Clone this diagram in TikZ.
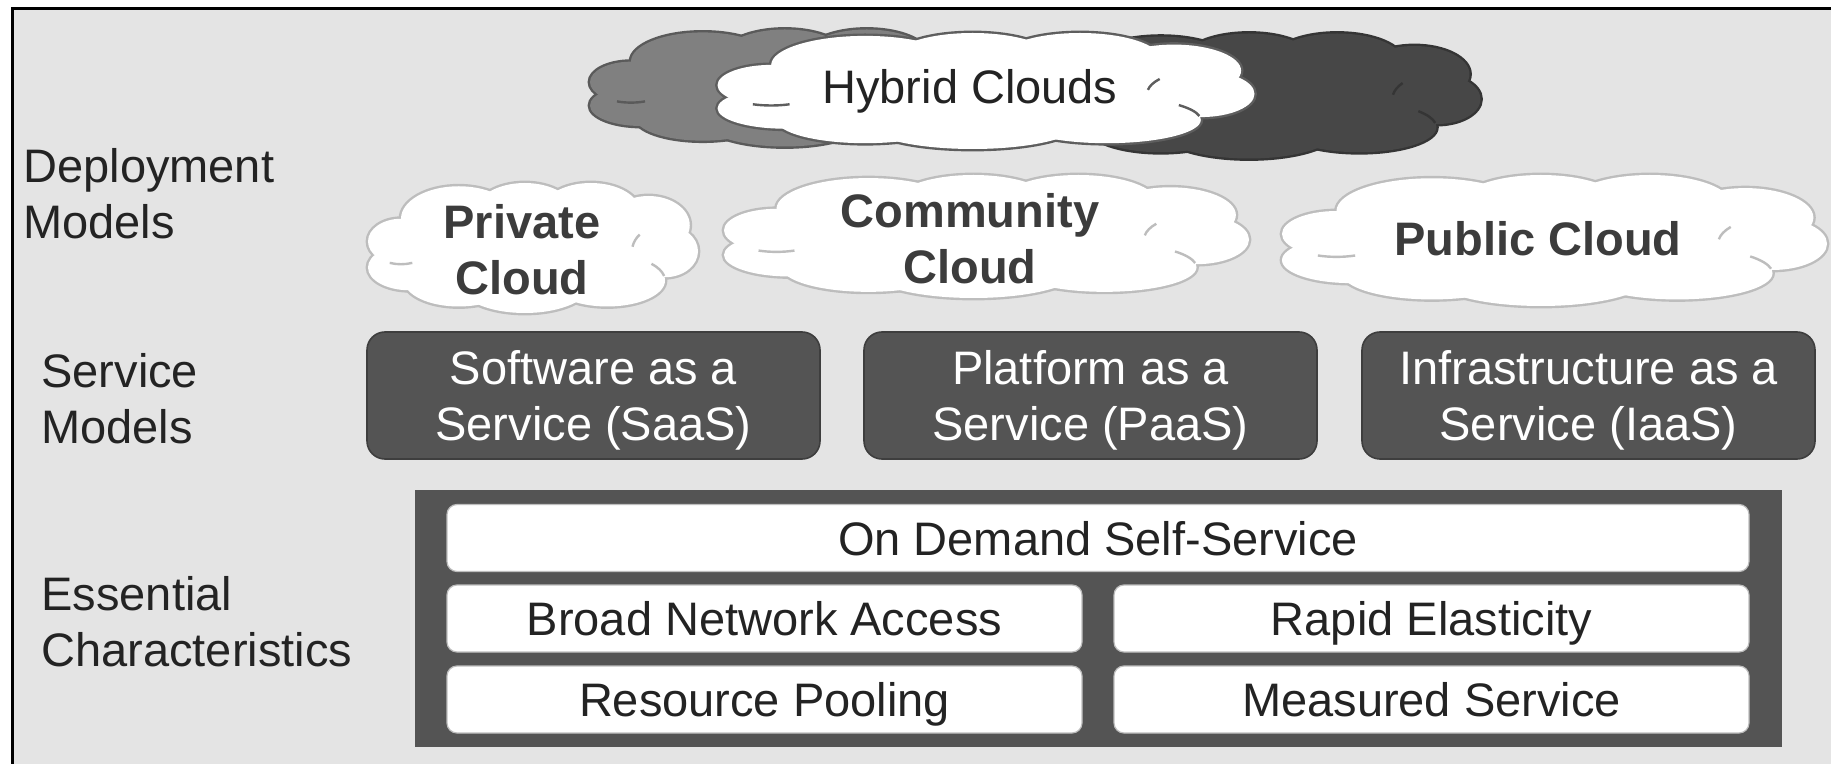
\documentclass[tikz,border=0pt]{standalone}
\usepackage{fontspec}
\setmainfont{Liberation Sans}
\usepackage{tikz}
\definecolor{bggray}{HTML}{E4E4E4}
\definecolor{boxgray}{HTML}{545454}
\definecolor{boxedge}{HTML}{3E3E3E}
\definecolor{puffline}{HTML}{BDBDBD}
\definecolor{midcloud}{HTML}{808080}
\definecolor{midedge}{HTML}{5A5A5A}
\definecolor{darkcloud}{HTML}{474747}
\definecolor{darkedge}{HTML}{353535}
\definecolor{hybridedge}{HTML}{5E5E5E}
\definecolor{labeltext}{HTML}{232323}
\definecolor{cloudtext}{HTML}{3C3C3C}
\newcommand{\bigfont}{\fontsize{23.5}{28}\selectfont}
\newcommand{\boldfont}{\fontsize{23.5}{28}\selectfont\bfseries}
% puffs of a cloud: x/y/x radius/y radius, cloud spans -1..1
\newcommand{\cloudpuffs}{-0.8/0.1/0.2/0.35, -0.75/-0.3/0.25/0.35, -0.45/0.45/0.35/0.5,
	-0.05/0.55/0.3/0.45, 0.35/0.55/0.3/0.45, 0.7/0.35/0.25/0.45, 0.8/-0.05/0.2/0.4,
	0.45/-0.5/0.35/0.4, -0.05/-0.55/0.4/0.45, -0.45/-0.5/0.33/0.4, 0/0/0.75/0.6}
% short folds drawn inside the cloud
\newcommand{\cloudfolds}{-0.8/0.1/0.2/0.35/250/290, 0.8/-0.05/0.2/0.4/140/170,
	0.45/-0.5/0.35/0.4/10/40}
\newcommand{\makecloud}[5]{
	\begin{scope}[shift={(#1)}, x=#2, y=#3]
	\foreach \px/\py/\rx/\ry in \cloudpuffs
		\draw[#5, line width=2.4pt] (\px,\py) ellipse [x radius=\rx, y radius=\ry];
	\foreach \px/\py/\rx/\ry in \cloudpuffs
		\fill[#4] (\px,\py) ellipse [x radius=\rx, y radius=\ry];
	\foreach \px/\py/\rx/\ry/\a/\b in \cloudfolds
		\draw[#5, line width=1.2pt] ({\px+\rx*cos(\a)},{\py+\ry*sin(\a)}) arc [start angle=\a, end angle=\b, x radius=\rx, y radius=\ry];
	\end{scope}
}
\tikzset{
	rowlabel/.style={anchor=west, align=left, inner sep=0pt, text=labeltext, font=\bigfont},
	cloudtag/.style={align=center, inner sep=0pt, text=cloudtext, font=\boldfont},
	svcbox/.style={rounded corners=9pt, fill=boxgray, draw=boxedge, line width=0.8pt, minimum width=226.5pt, minimum height=63.5pt, align=center, text=white, font=\bigfont, text depth=-6.5pt},
	charbox/.style={rounded corners=5pt, fill=white, draw=puffline, line width=0.6pt, minimum height=33.5pt, text height=17pt, text depth=0pt, text=labeltext, font=\bigfont}
}

\begin{document}
\begin{tikzpicture}[x=0.5pt,y=-0.5pt]
	\useasboundingbox (0,0) rectangle (1831,764);
	\fill[bggray] (12,9) rectangle (1831,764);
	\draw[line width=1.5pt] (12,764) -- (12,9) -- (1831,9);

	% row names
	\node[rowlabel] (deploy) at (23,194) {Deployment\\Models};
	\node[rowlabel] (service) at (41,399) {Service\\Models};
	\node[rowlabel] (essential) at (41,622) {Essential\\Characteristics};

	% hybrid clouds
	\coordinate (greycloud) at (795,88);
	\coordinate (darkcloud) at (1260,96);
	\coordinate (hybrid) at (986,91);
	\makecloud{greycloud}{102.5pt}{29.25pt}{midcloud}{midedge}
	\makecloud{darkcloud}{110.25pt}{31.25pt}{darkcloud}{darkedge}
	\makecloud{hybrid}{134.25pt}{29pt}{white}{hybridedge}
	\node[inner sep=0pt, text=labeltext, font=\bigfont] (hybridtag) at (970,91) {Hybrid Clouds};

	% deployment clouds
	\coordinate (private) at (533,248);
	\coordinate (community) at (986.5,236.5);
	\coordinate (public) at (1554.5,240.5);
	\makecloud{private}{82.5pt}{32.5pt}{white}{puffline}
	\makecloud{community}{131.25pt}{30.75pt}{white}{puffline}
	\makecloud{public}{136.25pt}{32.75pt}{white}{puffline}
	\node[cloudtag] (privatetag) at (522,250) {Private\\Cloud};
	\node[cloudtag] (communitytag) at (970,239) {Community\\Cloud};
	\node[cloudtag] (publictag) at (1538,239) {Public Cloud};

	% service models
	\node[svcbox] (saas) at (593.5,395.5) {Software as a\\Service (SaaS)};
	\node[svcbox] (paas) at (1090.5,395.5) {Platform as a\\Service (PaaS)};
	\node[svcbox] (iaas) at (1588.5,395.5) {Infrastructure as a\\Service (IaaS)};

	% essential characteristics
	\node[fill=boxgray, minimum width=683.5pt, minimum height=128.5pt, inner sep=0pt] (charframe) at (1098.5,618.5) {};
	\node[charbox, minimum width=651pt] (demand) at (1098,538) {On Demand Self-Service};
	\node[charbox, minimum width=317.5pt] (broad) at (764.5,618.5) {Broad Network Access};
	\node[charbox, minimum width=317.5pt] (rapid) at (1431.5,618.5) {Rapid Elasticity};
	\node[charbox, minimum width=317.5pt] (pooling) at (764.5,699.5) {Resource Pooling};
	\node[charbox, minimum width=317.5pt] (measured) at (1431.5,699.5) {Measured Service};
\end{tikzpicture}
\end{document}
